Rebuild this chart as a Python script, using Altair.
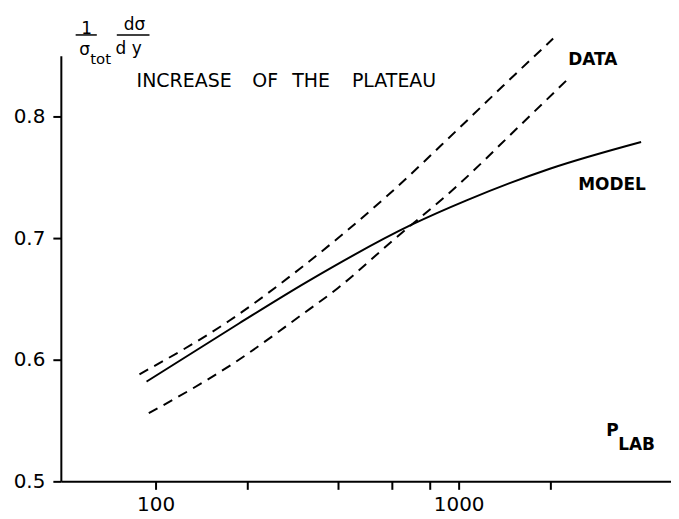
import altair as alt
import pandas as pd

# ---- data ----
p_upper = [88.5, 175, 300, 589, 1000, 1400, 2050]
v_upper = [0.588, 0.632, 0.675, 0.736, 0.790, 0.825, 0.864]

p_lower = [95, 182, 300, 400, 600, 1000, 1585, 2300]
v_lower = [0.556, 0.5975, 0.636, 0.659, 0.697, 0.744, 0.792, 0.831]

p_model = [93.4, 189, 316, 700, 1062, 2000, 4000]
v_model = [0.582, 0.630, 0.664, 0.711, 0.731, 0.757, 0.779]

x_ticks = [100, 200, 400, 600, 800, 1000, 2000]
y_ticks = [0.5, 0.6, 0.7, 0.8]

title_words = ["INCREASE", "OF", "THE", "PLATEAU"]
title_x = [86.6, 208.5, 282.3, 444.6]

FONT = "DejaVu Sans"

xs = alt.Scale(type="log", domain=[48.7, 5020], nice=False)
ys = alt.Scale(domain=[0.5, 0.85], nice=False, zero=False)

up = pd.DataFrame({"p": p_upper, "v": v_upper})
lo = pd.DataFrame({"p": p_lower, "v": v_lower})
mo = pd.DataFrame({"p": p_model, "v": v_model})

xenc = alt.X("p:Q", scale=xs, axis=alt.Axis(
    values=x_ticks, format="d",
    labelExpr="datum.value == 100 || datum.value == 1000 ? datum.label : ''",
    title=None, grid=False, tickSize=8, labelPadding=5, labelFontSize=20,
    labelFont=FONT, labelColor="black", domainColor="black", tickColor="black",
    domainWidth=2, tickWidth=2, labelFlush=False))
yenc = alt.Y("v:Q", scale=ys, axis=alt.Axis(
    values=y_ticks, format=".1f", title=None, grid=False, tickSize=8,
    labelPadding=8, labelFontSize=20, labelFont=FONT, labelColor="black",
    domainColor="black", tickColor="black", domainWidth=2, tickWidth=2))

upper = alt.Chart(up).mark_line(color="black", strokeWidth=2, strokeDash=[10, 7],
                                interpolate="monotone").encode(x=xenc, y=yenc)
lower = alt.Chart(lo).mark_line(color="black", strokeWidth=2, strokeDash=[10, 7],
                                interpolate="monotone").encode(x="p:Q", y="v:Q")
model = alt.Chart(mo).mark_line(color="black", strokeWidth=2,
                                interpolate="monotone").encode(x="p:Q", y="v:Q")

# annotations
ann_big = pd.DataFrame({
    "p": title_x,
    "v": [0.8295] * len(title_x),
    "t": title_words,
})
t_big = alt.Chart(ann_big).mark_text(align="left", baseline="middle", fontSize=19,
                                     font=FONT, color="black").encode(
    x="p:Q", y="v:Q", text="t:N")

ann_bold = pd.DataFrame({
    "p": [2300, 2480, 3070],
    "v": [0.8467, 0.744, 0.541],
    "t": ["DATA", "MODEL", "P"],
})
t_bold = alt.Chart(ann_bold).mark_text(align="left", baseline="middle", fontSize=17,
                                       fontWeight="bold", font=FONT, color="black").encode(
    x="p:Q", y="v:Q", text="t:N")

ann_sub = pd.DataFrame({"p": [3360], "v": [0.5295], "t": ["LAB"]})
t_sub = alt.Chart(ann_sub).mark_text(align="left", baseline="middle", fontSize=17,
                                     fontWeight="bold", font=FONT, color="black").encode(
    x="p:Q", y="v:Q", text="t:N")

# y-axis label: (1/sigma_tot) dsigma/dy
lab_main = pd.DataFrame({
    "p": [59.3, 58.4, 85.3, 81.5],
    "v": [0.872, 0.855, 0.8754, 0.8557],
    "t": ["1", "σ", "dσ", "d y"],
})
t_lab = alt.Chart(lab_main).mark_text(align="center", baseline="middle", fontSize=17,
                                      font=FONT, color="black").encode(
    x="p:Q", y="v:Q", text="t:N")
lab_tot = pd.DataFrame({"p": [65.9], "v": [0.8475], "t": ["tot"]})
t_tot = alt.Chart(lab_tot).mark_text(align="center", baseline="middle", fontSize=15,
                                     font=FONT, color="black").encode(
    x="p:Q", y="v:Q", text="t:N")
bars = pd.DataFrame({"p": [54.5, 74.5], "p2": [64.0, 95.5], "v": [0.867, 0.867]})
t_bars = alt.Chart(bars).mark_rule(color="black", strokeWidth=1.5).encode(
    x="p:Q", x2="p2:Q", y="v:Q")

chart = alt.layer(upper, lower, model, t_big, t_bold, t_sub, t_lab, t_tot, t_bars).properties(
    width=612, height=427,
    autosize=alt.AutoSizeParams(type="none"),
    padding={"left": 53, "top": 47, "right": 0, "bottom": 37},
).configure_view(stroke=None).configure_axis(grid=False)

chart.save("out.html", embed_options={"renderer": "svg", "actions": False})
